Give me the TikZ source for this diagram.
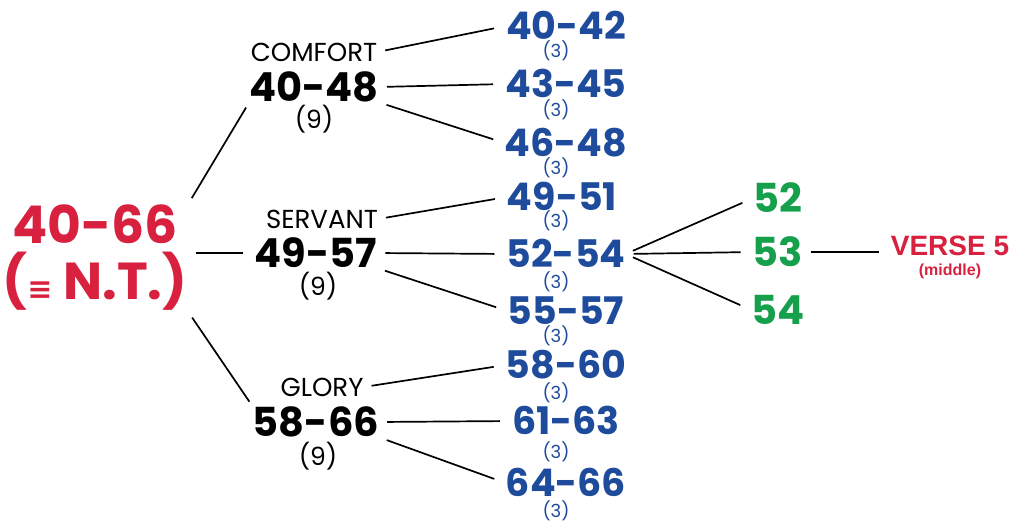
\documentclass[tikz,border=0pt]{standalone}
\usepackage{fontspec}
\setmainfont{Poppins}
\newfontfamily\symfont{DejaVu Sans}
\newfontfamily\versefont{Liberation Sans}
\definecolor{rootred}{HTML}{D8203F}
\definecolor{partblue}{HTML}{1E4B9B}
\definecolor{chapgreen}{HTML}{16A04B}

\begin{document}
\begin{tikzpicture}[x=1pt,y=-1pt,
        every node/.style={inner sep=0pt,align=center},
        root/.style={text=rootred,font=\fontsize{52}{56}\selectfont\bfseries},
        title/.style={font=\fontsize{26}{26}\selectfont},
        big/.style={font=\fontsize{40}{40}\selectfont\bfseries},
        count/.style={font=\fontsize{25}{25}\selectfont},
        part/.style={text=partblue,font=\fontsize{38}{38}\selectfont\bfseries,text depth=0pt,text height=27pt},
        small/.style={text=partblue,font=\fontsize{18}{18}\selectfont,text height=11pt,text depth=2pt},
        chap/.style={text=chapgreen,font=\fontsize{40}{40}\selectfont\bfseries},
        verse/.style={text=rootred,font=\versefont\fontsize{28}{28}\selectfont\bfseries},
        link/.style={line width=1.7pt,shorten <=8pt,shorten >=12pt}]
    \useasboundingbox (0,0) rectangle (1022,530);
    % whole book
    \node[root] (root) at (95,258) {40-66\\({\symfont\fontsize{30}{30}\selectfont ≡} N.T.)};
    % three sections
    \node[title] (comfort) at (314,52) {COMFORT};
    \node[big] (cnum) at (314,87) {40-48};
    \node[count] (ccount) at (314,119) {(9)};
    \node[title] (servant) at (322,219) {SERVANT};
    \node[big] (snum) at (316,253) {49-57};
    \node[count] (scount) at (318,286) {(9)};
    \node[title] (glory) at (322,387) {GLORY};
    \node[big] (gnum) at (316,422) {58-66};
    \node[count] (gcount) at (318,456) {(9)};
    % chapter groups
    \node[part] (p1) at (566,26) {40-42};
    \node[small] (c1) at (556,53) {(3)};
    \node[part] (p2) at (566,84) {43-45};
    \node[small] (c2) at (556,112) {(3)};
    \node[part] (p3) at (566,143) {46-48};
    \node[small] (c3) at (556,170) {(3)};
    \node[part] (p4) at (562,197) {49-51};
    \node[small] (c4) at (556,223) {(3)};
    \node[part] (p5) at (566,254) {52-54};
    \node[small] (c5) at (556,284) {(3)};
    \node[part] (p6) at (566,311) {55-57};
    \node[small] (c6) at (556,338) {(3)};
    \node[part] (p7) at (566,365) {58-60};
    \node[small] (c7) at (556,395) {(3)};
    \node[part] (p8) at (566,421) {61-63};
    \node[small] (c8) at (556,454) {(3)};
    \node[part] (p9) at (566,483) {64-66};
    \node[small] (c9) at (556,513) {(3)};
    % middle chapters
    \node[chap] (g52) at (778,198) {52};
    \node[chap] (g53) at (778,252) {53};
    \node[chap] (g54) at (778,310) {54};
    \node[verse] (verse) at (950,246) {VERSE 5};
    \node[verse,font=\versefont\fontsize{16}{16}\selectfont\bfseries] (middle) at (950,271) {(middle)};
    % connectors
    \draw[link,shorten >=6pt] (root.north east) -- (cnum.south west);
    \draw[link] (root.east |- snum) -- (snum.west);
    \draw[link,shorten >=6pt] (root.south east) -- (gnum.north west);
    \draw[link] (comfort.east) -- (p1.west);
    \draw[link] (cnum.east) -- (p2.west);
    \draw[link] (cnum.south east) -- (p3.west);
    \draw[link] (servant.east) -- (p4.west);
    \draw[link] (snum.east) -- (p5.west);
    \draw[link] (snum.south east) -- (p6.west);
    \draw[link] (glory.east) -- (p7.west);
    \draw[link] (gnum.east) -- (p8.west);
    \draw[link] (gnum.south east) -- (p9.west);
    \draw[link] (p5.east) -- (g52.west);
    \draw[link] (p5.east) -- (g53.west);
    \draw[link] (p5.east) -- (g54.west);
    \draw[link] (g53.east) -- (g53.east -| verse.west);
\end{tikzpicture}
\end{document}
